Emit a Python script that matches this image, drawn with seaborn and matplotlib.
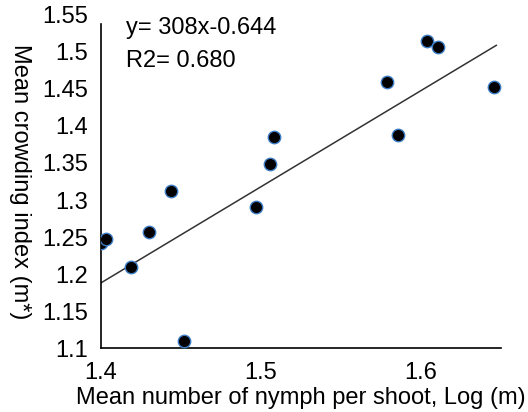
import matplotlib
matplotlib.use("Agg")
import matplotlib.pyplot as plt
import seaborn as sns
import pandas as pd

# values
log_m = [1.400, 1.403, 1.419, 1.430, 1.444, 1.452, 1.497, 1.506, 1.508,
         1.579, 1.586, 1.604, 1.611, 1.646]
crowding = [1.242, 1.247, 1.209, 1.257, 1.312, 1.110, 1.291, 1.349, 1.385,
            1.459, 1.388, 1.515, 1.507, 1.453]

# end points of the drawn trend line
line_x = [1.400, 1.6475]
line_y = [1.188, 1.509]

x_ticks = [1.4, 1.5, 1.6]
y_ticks = [1.1, 1.15, 1.2, 1.25, 1.3, 1.35, 1.4, 1.45, 1.5, 1.55]
y_tick_labels = ["1.1", "1.15", "1.2", "1.25", "1.3", "1.35", "1.4", "1.45", "1.5", "1.55"]

sns.set_style("white")
plt.rcParams['font.family'] = ['Liberation Sans', 'DejaVu Sans']
plt.rcParams['text.color'] = 'black'
plt.rcParams['axes.labelcolor'] = 'black'
plt.rcParams['xtick.color'] = 'black'
plt.rcParams['ytick.color'] = 'black'

df = pd.DataFrame({'x': log_m, 'y': crowding})
line_df = pd.DataFrame({'x': line_x, 'y': line_y})

fig = plt.figure(figsize=(5.28, 4.12), dpi=100)
ax = fig.add_axes([0.191, 0.155, 0.757, 0.809])

sns.lineplot(data=line_df, x='x', y='y', color='#333333', linewidth=1.1, ax=ax)
sns.scatterplot(data=df, x='x', y='y', color='black', edgecolor='#3d7cc4',
                linewidth=1.0, s=80, ax=ax, zorder=3)

ax.set_xlim(1.4, 1.65)
ax.set_ylim(1.1, 1.55)
ax.set_xticks(x_ticks)
ax.set_xticklabels([str(t) for t in x_ticks])
ax.set_yticks(y_ticks)
ax.set_yticklabels(y_tick_labels)

for side in ['top', 'right']:
    ax.spines[side].set_visible(False)
for side in ['left', 'bottom']:
    ax.spines[side].set_color('black')
    ax.spines[side].set_linewidth(1.2)
ax.spines['left'].set_bounds(1.1, 1.538)
ax.tick_params(axis='both', direction='out', length=6, width=1.2,
               labelsize=17, color='black', labelcolor='black', pad=3)
ax.tick_params(axis='x', pad=4)
ax.yaxis.get_major_ticks()[-1].tick1line.set_visible(False)

ax.set_xlabel('Mean number of nymph per shoot, Log (m)', fontsize=17, labelpad=2)
ax.set_ylabel('Mean crowding index (m*)', fontsize=17, rotation=270, labelpad=24)

ax.text(0.0625, 0.961, 'y= 308x-0.644', transform=ax.transAxes, fontsize=17,
        va='center', ha='left')
ax.text(0.0625, 0.862, 'R2= 0.680', transform=ax.transAxes, fontsize=17,
        va='center', ha='left')

fig.savefig('out.png', dpi=100)
